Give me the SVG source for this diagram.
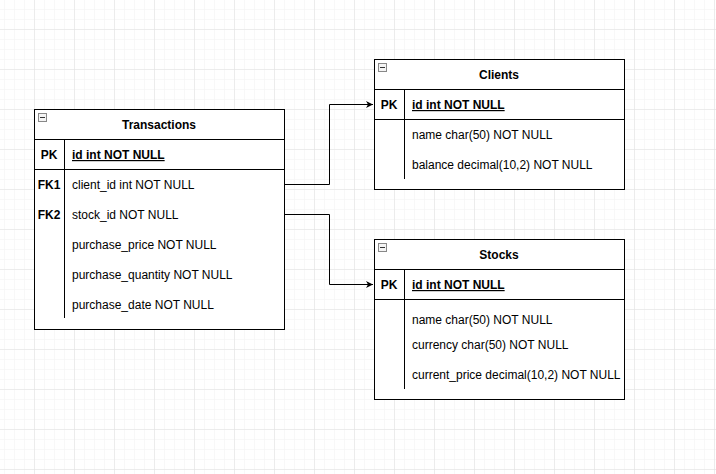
<svg xmlns="http://www.w3.org/2000/svg" width="716" height="474" viewBox="0 0 716 474">
<defs>
<pattern id="minor" x="4" y="9" width="10" height="10" patternUnits="userSpaceOnUse">
<path d="M0 0H10M0 0V10" fill="none" stroke="#f2f2f2" stroke-width="1"/>
</pattern>
<pattern id="major" x="34" y="29" width="40" height="40" patternUnits="userSpaceOnUse">
<path d="M0 0H40M0 0V40" fill="none" stroke="#e0e0e0" stroke-width="1"/>
</pattern>
<marker id="arr" markerWidth="8" markerHeight="8" refX="7" refY="4" orient="auto" markerUnits="userSpaceOnUse">
<path d="M0,0.5 L7,4 L0,7.5 L2,4 Z" fill="#000"/>
</marker>
<g id="icon">
<rect x="0.5" y="0.5" width="8" height="8" fill="#f4f4f4" stroke="#888"/>
<path d="M2 4.5H7" stroke="#333"/>
</g>
</defs>
<style>
.box{fill:#fff;stroke:#000;stroke-width:1}
.ln{stroke:#000;stroke-width:1;fill:none}
text{font-family:"Liberation Sans",Arial,sans-serif;font-size:12px;fill:#000}
.t{font-weight:bold;text-anchor:middle}
.k{font-weight:bold;text-anchor:middle}
.pk{font-weight:bold;text-decoration:underline}
.c{fill:none;stroke:#000;stroke-width:1}
</style>
<rect width="716" height="474" fill="#fff"/>
<rect width="716" height="474" fill="url(#minor)"/>
<rect width="716" height="474" fill="url(#major)"/>

<g id="connectors">
<path class="c" d="M284.5 184.5H329.5V104.5H373" marker-end="url(#arr)"/>
<path class="c" d="M284.5 214.5H329.5V284.5H373" marker-end="url(#arr)"/>
</g>

<g id="transactions">
<rect class="box" x="34.5" y="109.5" width="250" height="220"/>
<use href="#icon" x="38" y="113"/>
<text class="t" x="159" y="129">Transactions</text>
<path class="ln" d="M34.5 139.5H284.5M34.5 169.5H284.5M64.5 139.5V318"/>
<text class="k" x="49" y="159">PK</text>
<text class="pk" x="72" y="159">id int NOT NULL</text>
<text class="k" x="49" y="189">FK1</text>
<text x="72" y="189">client_id int NOT NULL</text>
<text class="k" x="49" y="219">FK2</text>
<text x="72" y="219">stock_id NOT NULL</text>
<text x="72" y="249">purchase_price NOT NULL</text>
<text x="72" y="279">purchase_quantity NOT NULL</text>
<text x="72" y="309">purchase_date NOT NULL</text>
</g>

<g id="clients">
<rect class="box" x="374.5" y="59.5" width="250" height="130"/>
<use href="#icon" x="378" y="63"/>
<text class="t" x="499" y="79">Clients</text>
<path class="ln" d="M374.5 89.5H624.5M374.5 119.5H624.5M404.5 89.5V179"/>
<text class="k" x="389" y="109">PK</text>
<text class="pk" x="412" y="109">id int NOT NULL</text>
<text x="412" y="139">name char(50) NOT NULL</text>
<text x="412" y="169">balance decimal(10,2) NOT NULL</text>
</g>

<g id="stocks">
<rect class="box" x="374.5" y="239.5" width="250" height="160"/>
<use href="#icon" x="378" y="243"/>
<text class="t" x="499" y="259">Stocks</text>
<path class="ln" d="M374.5 269.5H624.5M374.5 299.5H624.5M404.5 269.5V389"/>
<text class="k" x="389" y="289">PK</text>
<text class="pk" x="412" y="289">id int NOT NULL</text>
<text x="412" y="324">name char(50) NOT NULL</text>
<text x="412" y="349">currency char(50) NOT NULL</text>
<text x="412" y="379">current_price decimal(10,2) NOT NULL</text>
</g>
</svg>
